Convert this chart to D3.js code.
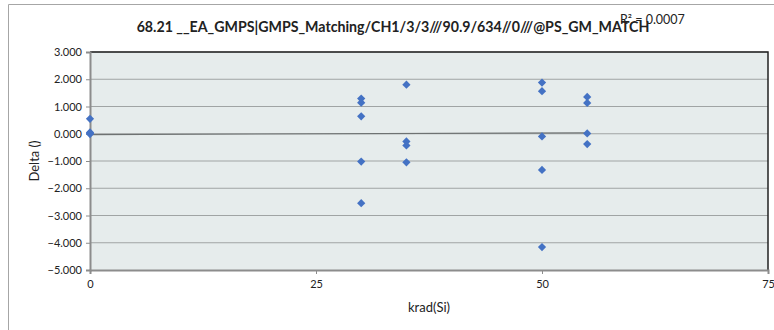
<!DOCTYPE html>
<html><head><meta charset="utf-8">
<script src="https://cdn.jsdelivr.net/npm/d3@7"></script>
<style>body{margin:0;background:#fff}svg{display:block}</style>
</head><body>
<script>
const xValues = [0, 0, 0, 0, 30, 30, 30, 30, 30, 35, 35, 35, 35, 50, 50, 50, 50, 50, 55, 55, 55, 55];
const yValues = [0.55, 0.05, 0.02, -0.01, 1.29, 1.14, 0.64, -1.02, -2.55, 1.80, -0.28, -0.43, -1.05, 1.88, 1.56, -0.10, -1.33, -4.16, 1.35, 1.13, 0.01, -0.38];
const trendX = [0, 55];
const trendY = [-0.03, 0.035];
const yTicks = [3, 2, 1, 0, -1, -2, -3, -4, -5];
const xTicks = [0, 25, 50, 75];
const title = "68.21 __EA_GMPS|GMPS_Matching/CH1/3/3///90.9/634//0///@PS_GM_MATCH";
const r2Label = "R² = 0.0007";

const W = 774, H = 330;
const svg = d3.select("body").append("svg").attr("width", W).attr("height", H);
const font = "Lato, 'Open Sans', sans-serif";

// outer chart border
svg.append("path").attr("d", `M8.5,${H}V4.5H${W}`).attr("fill","none").attr("stroke","#a6a6a6").attr("stroke-width",1);

const L = 90, R = 768, T = 52, B = 270;
const x = d3.scaleLinear().domain([0, 75]).range([L, R]);
const y = d3.scaleLinear().domain([-5, 3]).range([B, T]);

svg.append("rect").attr("x", L).attr("y", T).attr("width", R-L).attr("height", B-T).attr("fill", "#e6ecec");

// gridlines
svg.append("g").selectAll("line").data(yTicks.filter(d => d > -5)).join("line")
  .attr("x1", L).attr("x2", R).attr("y1", d => y(d)).attr("y2", d => y(d))
  .attr("stroke", "#a0a4a4").attr("stroke-width", 1);

// plot border top/right
svg.append("path").attr("d", `M${L},${T}H${R}V${B}`).attr("fill","none").attr("stroke","#222").attr("stroke-width",1.5);

// trendline
svg.append("path").datum(trendX.map((v,i)=>[v,trendY[i]]))
  .attr("d", d3.line().x(d => x(d[0])).y(d => y(d[1])))
  .attr("fill","none").attr("stroke", "#6e7272").attr("stroke-width", 1.2);

// axes
const yAxis = d3.axisLeft(y).tickValues(yTicks).tickFormat(d3.format(".3f")).tickSize(4).tickPadding(4);
const gy = svg.append("g").attr("transform", `translate(${L},0)`).call(yAxis);
const xAxis = d3.axisBottom(x).tickValues(xTicks).tickFormat(d3.format("d")).tickSize(4).tickPadding(6);
const gx = svg.append("g").attr("transform", `translate(0,${B})`).call(xAxis);
[gy, gx].forEach(g => {
  g.select(".domain").attr("stroke", "#8c8c8c").attr("stroke-width", 2);
  g.selectAll(".tick line").attr("stroke", "#8c8c8c");
  g.selectAll(".tick text").attr("font-family", font).attr("font-size", 11).attr("fill", "#222");
});

// points (diamonds = rotated squares)
const sym = d3.symbol().type(d3.symbolSquare).size(34);
svg.append("g").selectAll("path").data(xValues.map((v,i)=>[v,yValues[i]])).join("path")
  .attr("d", sym).attr("transform", d => `translate(${x(d[0])},${y(d[1])}) rotate(45)`)
  .attr("fill", "#4472c4");

// titles
svg.append("text").attr("x", 393).attr("y", 32).attr("text-anchor","middle")
  .attr("font-family", font).attr("font-weight","bold").attr("font-size", 14.2).attr("fill","#222").text(title);
svg.append("text").attr("x", 620).attr("y", 24).attr("font-family", font).attr("font-size", 12.5).attr("fill","#222").text(r2Label);
svg.append("text").attr("transform", "translate(39,161) rotate(-90)").attr("text-anchor","middle")
  .attr("font-family", font).attr("font-size", 13).attr("fill","#222").text("Delta ()");
svg.append("text").attr("x", 429).attr("y", 312).attr("text-anchor","middle")
  .attr("font-family", font).attr("font-size", 13).attr("fill","#222").text("krad(Si)");
</script>
</body></html>
